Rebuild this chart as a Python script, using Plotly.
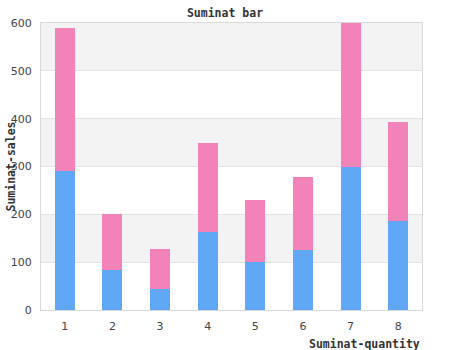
import plotly.graph_objects as go

categories = ["1", "2", "3", "4", "5", "6", "7", "8"]
series_blue = [290, 84, 44, 164, 100, 126, 298, 186]
series_pink = [299, 117, 84, 186, 130, 153, 302, 206]
y_ticks = [0, 100, 200, 300, 400, 500, 600]

BLUE = "#60a8f5"
PINK = "#f283b9"

fig = go.Figure()
fig.add_trace(go.Bar(x=categories, y=series_blue, marker=dict(color=BLUE, line=dict(width=0)), width=0.42))
fig.add_trace(go.Bar(x=categories, y=series_pink, marker=dict(color=PINK, line=dict(width=0)), width=0.42))

shapes = []
for i in range(0, len(y_ticks) - 1):
    if i % 2 == 1:
        shapes.append(dict(type="rect", xref="paper", yref="y", x0=0, x1=1,
                           y0=y_ticks[i], y1=y_ticks[i + 1], fillcolor="#f3f3f3",
                           line=dict(width=0), layer="below"))

fig.update_layout(
    barmode="stack",
    width=450, height=350,
    margin=dict(l=41, r=28, t=23, b=40),
    paper_bgcolor="white", plot_bgcolor="white",
    showlegend=False,
    shapes=shapes,
    title=dict(text="<b>Suminat bar</b>", x=0.5, xref="container", xanchor="center",
               y=1 - 13 / 350, yref="container", yanchor="middle",
               font=dict(family="DejaVu Sans Mono", size=11.5, color="#333")),
    font=dict(family="DejaVu Sans", size=11, color="#444"),
)
fig.update_xaxes(showline=True, linecolor="#d9d9d9", linewidth=1, mirror=True,
                 showgrid=False, ticks="", ticklabelstandoff=6,
                 tickfont=dict(family="DejaVu Sans", size=11, color="#444"))
fig.update_yaxes(range=[0, 600], tickvals=y_ticks, showline=True, linecolor="#d9d9d9",
                 linewidth=1, mirror=True, showgrid=True, gridcolor="#e2e2e2",
                 zeroline=False, ticks="", ticklabelstandoff=6,
                 tickfont=dict(family="DejaVu Sans", size=11, color="#444"))

fig.add_annotation(text="<b>Suminat-sales</b>", xref="paper", yref="paper", x=0, y=0.5,
                   xshift=-31, textangle=-90, showarrow=False, xanchor="center", yanchor="middle",
                   font=dict(family="DejaVu Sans Mono", size=11.5, color="#333"))
fig.add_annotation(text="<b>Suminat-quantity</b>", xref="paper", yref="paper", x=1, y=0,
                   yshift=-34, showarrow=False, xanchor="right", yanchor="middle",
                   font=dict(family="DejaVu Sans Mono", size=11.5, color="#333"))

fig.write_html("out.html")
